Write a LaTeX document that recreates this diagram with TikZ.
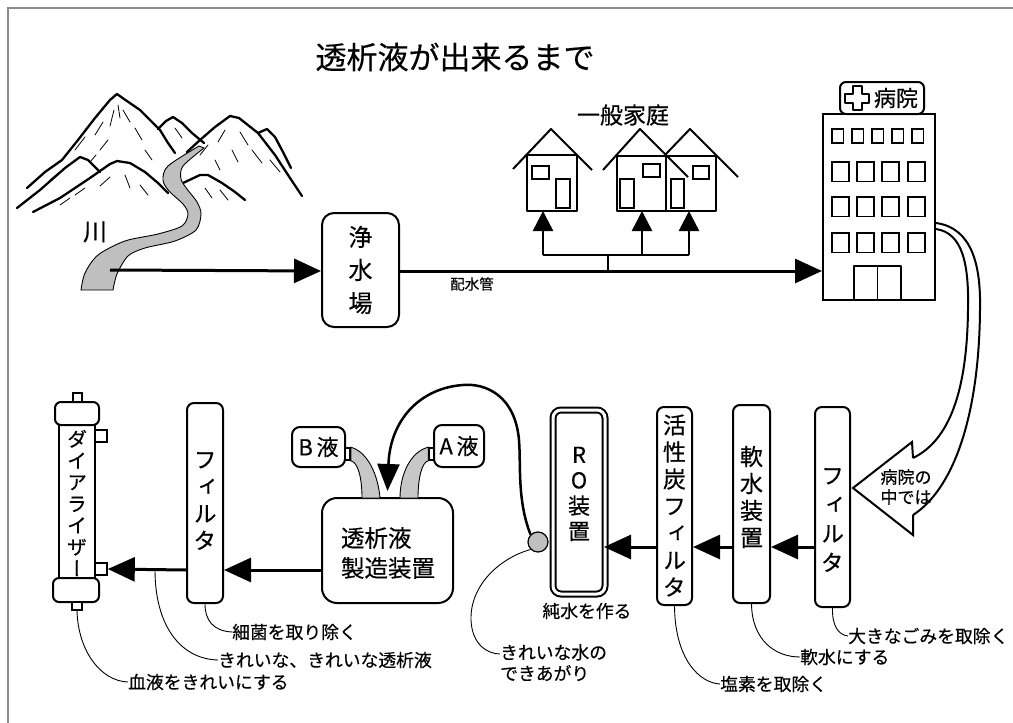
\documentclass[tikz,border=0pt]{standalone}
\usepackage{fontspec}
\setmainfont{Noto Sans CJK JP}[FakeBold=0.35]
\newfontfamily\vjp{Noto Sans CJK JP}[RawFeature=+vert, FakeBold=0.35]
\usetikzlibrary{arrows.meta}
\newcommand\pxfont[1]{\fontsize{#1}{#1}\selectfont}

\tikzset{
  heavy/.style={line width=2pt, line join=round},
  unit/.style={draw, line width=2pt, rounded corners=7pt, inner sep=0pt},
  vlabel/.style={font=\vjp\fontsize{23}{27}\selectfont, align=center, inner sep=0pt},
  flow/.style={line width=3pt, -{Triangle[length=27pt,width=24pt]}},
  feed/.style={line width=2.5pt, -{Triangle[length=20pt,width=20pt]}},
  lead/.style={line width=0.9pt},
  note/.style={font=\pxfont{17.8}, anchor=west, inner sep=0pt},
  win/.style={draw, line width=1.8pt},
  hatch/.style={line width=0.8pt, line cap=round},
  ridge/.style={line width=2.3pt, line join=round, line cap=round},
  port/.style={draw, line width=1.6pt, fill=white, inner sep=0pt},
  tube/.style={draw, line width=0.9pt, fill=black!22},
}

\begin{document}
\begin{tikzpicture}[x=1pt,y=-1pt]
\useasboundingbox (0,0) rectangle (1013,723);

% frame
\draw[black!45, line width=1.2pt] (8,723) -- (8,8) -- (1013,8);

% title
\node[font=\pxfont{31}] (title) at (455,57) {透析液が出来るまで};

% ---------- mountains ----------
\draw[ridge] (27,188) -- (45,172) -- (62,160) -- (78,140) -- (95,118) -- (110,100) -- (117,94) -- (124,99) -- (140,110) -- (150,120) -- (160,130) -- (168,143) -- (175,153);
\draw[ridge] (158,129) -- (166,121) -- (173,117) -- (182,123) -- (192,133) -- (204,143);
\draw[ridge] (187,152) -- (200,140) -- (215,127) -- (230,116) -- (239,118) -- (258,133) -- (275,155) -- (290,178) -- (302,196);
\draw[ridge] (258,133) -- (267,129) -- (275,137) -- (283,152) -- (291,168);
\draw[ridge] (17,208) -- (40,190) -- (65,168) -- (80,157) -- (88,160) -- (100,172);
\draw[ridge] (33,212) -- (60,198) -- (90,178) -- (110,164) -- (117,161) -- (130,163) -- (145,172) -- (158,183) -- (168,193);
\draw[ridge] (183,183) -- (200,175) -- (208,175) -- (222,183) -- (235,192) -- (245,200);
% slope strokes
\foreach \xa/\ya/\xb/\yb in {75/150/85/137, 95/135/103/122, 110/126/114/110, 123/110/130/122,
  135/128/142/140, 100/150/108/140, 50/180/60/172, 225/130/218/142,
  240/132/248/145, 252/150/262/163, 232/150/238/162, 208/145/200/155,
  270/160/280/172, 100/186/110/177, 125/175/130/188, 140/185/148/195,
  75/195/85/188, 205/188/212/198, 220/190/228/200, 175/128/182/138,
  60/205/70/198, 118/105/120/118, 265/142/272/152, 215/160/220/170,
  145/150/152/160, 90/162/96/155}
  \draw[hatch] (\xa,\ya) -- (\xb,\yb);

% river
\draw[line width=0.9pt, fill=black!25]
  plot[smooth] coordinates {(199,146) (168,166) (163,180) (169,191) (183,204) (188,214) (182,226) (158,234) (125,241) (98,255) (85,273) (81,290)}
  -- plot[smooth] coordinates {(113,290) (117,274) (128,256) (145,248) (175,241) (196,230) (201,214) (197,202) (187,189) (181,179) (183,166) (204,148)}
  -- cycle;
\node[font=\pxfont{24}] (river) at (95,232) {川};
\coordinate (mouth) at (110,270);

% ---------- water works ----------
\node[unit, rounded corners=12pt, minimum width=77, minimum height=114,
  font=\fontsize{24}{33}\selectfont, align=center] (works) at (360.5,270) {浄\\水\\場};
\coordinate (mainrow) at (0,271);
\draw[flow] (mouth) -- (works.west |- mainrow);

% ---------- hospital ----------
\node[draw, line width=2pt, minimum width=112, minimum height=186, inner sep=0pt] (hosp) at (879,207) {};
\node[draw, line width=2pt, rounded corners=6pt, minimum width=84, minimum height=32, inner sep=0pt] (sign) at (882,98) {};
\draw[line width=2pt, line join=round] (852.5,86) -- (861.5,86) -- (861.5,93.5) -- (869,93.5) -- (869,102.5) -- (861.5,102.5) -- (861.5,110) -- (852.5,110) -- (852.5,102.5) -- (845,102.5) -- (845,93.5) -- (852.5,93.5) -- cycle;
\node[font=\pxfont{22}, inner sep=0pt] (signtext) at (896,98) {病院};
\foreach \x in {832,852,872,892,912}
  \draw[win] (\x,129) rectangle ++(11.5,14);
\foreach \y in {162,197,233}
  \foreach \x in {832,857,882,908}
    \draw[win] (\x,\y) rectangle ++(17,19.5);
\draw[heavy] (854,300) -- (854,266) -- (901,266) -- (901,300);
\draw[line width=1.8pt] (877.5,266) -- (877.5,300);

% distribution pipe
\draw[flow] (works.east |- mainrow) -- (hosp.west |- mainrow);
\node[font=\pxfont{14.5}, inner sep=0pt] (pipe) at (472,284) {配水管};

% ---------- houses ----------
\draw[heavy] (527,155) rectangle (577,211);
\draw[heavy] (513,169) -- (551,129) -- (592,170);
\draw[win] (532,166) rectangle (549,179);
\draw[win] (556,179) rectangle (570,208);
\draw[heavy] (617,156) rectangle (666,211);
\draw[heavy] (666,156) rectangle (716,211);
\draw[heavy] (603,170) -- (640,129) -- (688,177);
\draw[heavy] (665,155) -- (690,129) -- (738,177);
\draw[win] (643,164) rectangle (660,177);
\draw[win] (620,179) rectangle (634,208);
\draw[win] (693,166) rectangle (709,179);
\draw[win] (671,179) rectangle (684,208);
\node[font=\pxfont{23}, inner sep=0pt] (homes) at (623,115) {一般家庭};

\coordinate (tee) at (608,271);
\coordinate (bar) at (608,255);
\coordinate (h1) at (543,211);
\coordinate (h2) at (642,211);
\coordinate (h3) at (689,211);
\draw[line width=2.5pt] (tee) -- (bar);
\draw[line width=2.5pt] (h1 |- bar) -- (h3 |- bar);
\draw[feed] (h1 |- bar) -- (h1);
\draw[feed] (h2 |- bar) -- (h2);
\draw[feed] (h3 |- bar) -- (h3);

% ---------- pipe into the hospital plant ----------
\coordinate (upper) at (913,458);
\coordinate (lower) at (913,515);
\coordinate (pipetop) at (0,223);
\coordinate (pipebot) at (0,229);
\draw[line width=2pt, line join=miter] (upper) -- (912,442) -- (853,488) -- (913,535) -- (lower);
\draw[line width=2pt] (hosp.east |- pipetop) .. controls (972,228) and (981,265) .. (980,310)
   .. controls (979,420) and (952,490) .. (lower);
\draw[line width=2pt] (hosp.east |- pipebot) .. controls (963,233) and (969,265) .. (968,310)
   .. controls (967,390) and (950,440) .. (upper);
\node[font=\fontsize{17}{20}\selectfont, align=center, inner sep=0pt] (inside) at (906,487) {病院の\\中では};

% ---------- treatment line ----------
\coordinate (r1) at (0,547);
\coordinate (r2) at (0,570);

\node[unit, minimum width=35, minimum height=200] (rf) at (832.5,507) {};
\node[vlabel, font=\vjp\fontsize{23}{29}\selectfont] (rftext) at (832.5,520) {フ\\ィ\\ル\\タ};

\node[unit, minimum width=37, minimum height=198] (sw) at (751.5,504) {};
\node[vlabel] (swtext) at (751.5,497) {軟\\水\\装\\置};

\node[unit, minimum width=35, minimum height=198] (ac) at (674.5,506) {};
\node[vlabel] (actext) at (674.5,505.5) {活\\性\\炭\\フ\\ィ\\ル\\タ};

\node[draw, line width=2pt, double=white, double distance=3pt, rounded corners=8pt,
  minimum width=52, minimum height=184, inner sep=0pt] (ro) at (579,502) {};
\node[vlabel, font=\vjp\fontsize{22}{25.5}\selectfont] (rotext) at (579,494) {R\\O\\装\\置};
\node[font=\pxfont{17.8}, inner sep=0pt] (purewater) at (587,611) {純水を作る};

\node[draw, circle, line width=1.2pt, fill=black!25, minimum size=20, inner sep=0pt] (dot) at (538,542) {};

\draw[flow] (rf.west |- r1) -- (sw.east |- r1);
\draw[flow] (sw.west |- r1) -- (ac.east |- r1);
\draw[flow, shorten >=-2pt] (ac.west |- r1) -- (ro.east |- r1);

% dialysate preparation
\node[unit, rounded corners=15pt, minimum width=131, minimum height=105] (mk) at (387.5,550.5) {};
\node[font=\fontsize{23.5}{30}\selectfont, align=left, inner sep=0pt] (mktext) at (388,553) {透析液\\製造装置};

\node[unit, rounded corners=8pt, minimum width=53, minimum height=40, font=\pxfont{22}] (bliq) at (318.5,447) {B\,液};
\node[unit, rounded corners=8pt, minimum width=50, minimum height=42, font=\pxfont{22}] (aliq) at (459,446) {A\,液};
\node[port, minimum width=5, minimum height=12] (bport) at (347.5,454) {};
\node[port, minimum width=5, minimum height=12] (aport) at (431.5,454) {};

\draw[tube] (bport.north east) .. controls (368,452) and (378,475) .. (380,498)
   -- (362,498) .. controls (362,478) and (358,462) .. (bport.south east) -- cycle;
\draw[tube] (aport.north west) .. controls (410,452) and (400,475) .. (400,498)
   -- (418,498) .. controls (418,478) and (422,462) .. (aport.south west) -- cycle;

\draw[line width=2.5pt, -{Triangle[length=27pt,width=22pt]}]
  (dot.north west) .. controls (517,500) and (521,465) .. (519,440)
  .. controls (515,395) and (485,383) .. (463,385)
  .. controls (420,388) and (390,420) .. ([yshift=6pt]mk.north);

% final filter and dialyzer
\node[unit, minimum width=36, minimum height=200] (lf) at (205,503) {};
\node[vlabel] (lftext) at (205,501) {フ\\ィ\\ル\\タ};

\node[draw, line width=2pt, rounded corners=6pt, minimum width=44, minimum height=23, inner sep=0pt] (dtop) at (77,413.5) {};
\node[draw, line width=2pt, minimum width=36, minimum height=153, inner sep=0pt] (dbody) at (77,501.5) {};
\node[draw, line width=2pt, rounded corners=6pt, minimum width=46, minimum height=24, inner sep=0pt, fill=white] (dbot) at (76,590) {};
\node[port, minimum width=9, minimum height=9] (dtport) at (77.5,397.5) {};
\node[port, minimum width=10, minimum height=8] (dbport) at (77,606) {};
\node[port, minimum width=12, minimum height=12] (dsup) at (101,436) {};
\node[port, minimum width=12, minimum height=12] (dsin) at (101,569) {};
\node[vlabel, font=\vjp\fontsize{20}{21.6}\selectfont] (dtext) at (77,503) {ダ\\イ\\ア\\ラ\\イ\\ザ\\ー};

\draw[flow] (mk.west |- r2) -- (lf.east |- r2);
\draw[flow] (lf.west |- r2) -- (dsin.east);

% ---------- notes ----------
\node[note] (blood) at (128,682) {血液をきれいにする};
\draw[lead] (dbport.south) .. controls (78,650) and (100,681) .. (blood.west);

\coordinate (tap) at (155,570);
\node[note] (clean) at (218,660) {きれいな、きれいな透析液};
\draw[lead] (tap) .. controls (155,625) and (180,659) .. (clean.west);

\node[note] (germ) at (232,632) {細菌を取り除く};
\draw[lead] (lf.south) .. controls (205,620) and (213,631) .. (germ.west);

\node[note, anchor=north west, align=left, font=\fontsize{17.8}{21}\selectfont] (pure) at (500,644) {きれいな水の\\できあがり};
\draw[lead] (dot.south west) .. controls (500,558) and (470,585) .. (471,620)
  .. controls (472,645) and (488,654) .. ([yshift=-10pt]pure.north west);

\node[note] (chlorine) at (720,684) {塩素を取除く};
\draw[lead] (ac.south) .. controls (675,660) and (700,683) .. (chlorine.west);

\node[note] (soften) at (800,657) {軟水にする};
\draw[lead] (sw.south) .. controls (752,640) and (775,657) .. (soften.west);

\node[note] (dust) at (848,636) {大きなごみを取除く};
\draw[lead] (rf.south) .. controls (832,625) and (838,635) .. (dust.west);

\end{tikzpicture}
\end{document}
